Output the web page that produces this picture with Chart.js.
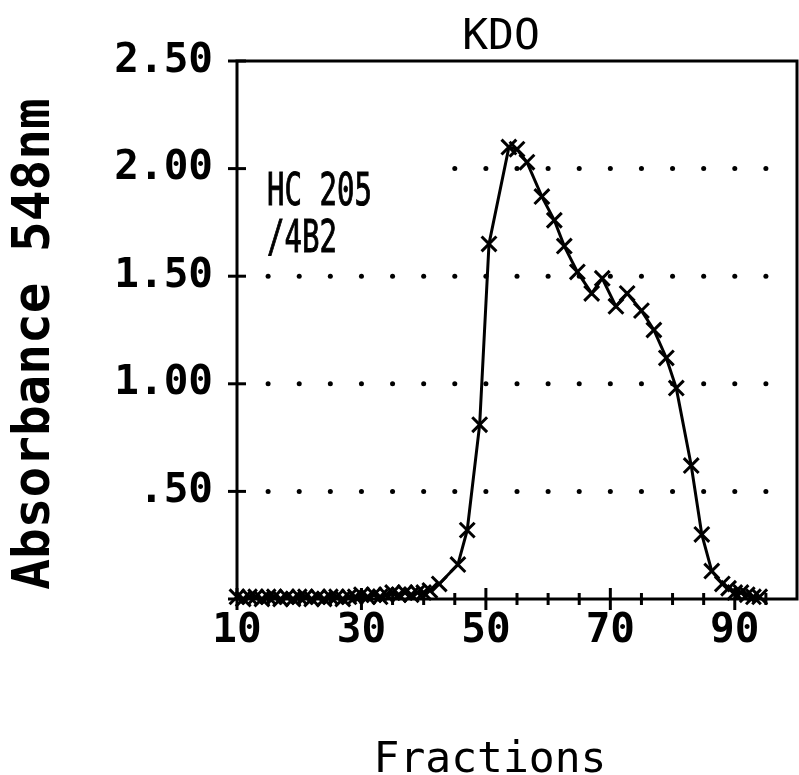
<!DOCTYPE html>
<html>
<head>
    <title>KDO</title>
    <script src="https://cdn.jsdelivr.net/npm/chart.js"></script>
    <style>
        body { margin: 0; background: #fff; }
    </style>
</head>
<body>
    <canvas id="kdoChart" width="799" height="775"></canvas>

    <script>
        // fraction number and absorbance read for each plotted point
        var fractions = [10, 11, 12, 13, 14, 15, 16, 17, 18, 19, 20, 21, 22, 23, 24, 25,
                         26, 27, 28, 29, 30, 31, 32, 33, 34, 35, 36, 37, 38, 39, 40, 41,
                         42.5, 45.5, 47, 49, 50.5, 53.7, 55, 56.6, 59, 61, 62.6, 64.7, 67, 68.7,
                         70.9, 72.7, 75, 77, 79, 80.6, 83, 84.7, 86.3, 88, 89, 90, 91, 92, 93, 94];
        var absorbance = [0.01, 0.00, 0.01, 0.01, 0.00, 0.01, 0.01, 0.00, 0.01, 0.00, 0.01, 0.01, 0.00, 0.01, 0.00, 0.01,
                          0.01, 0.00, 0.01, 0.01, 0.02, 0.01, 0.02, 0.01, 0.02, 0.03, 0.02, 0.03, 0.02, 0.03, 0.03, 0.04,
                          0.07, 0.16, 0.32, 0.81, 1.65, 2.10, 2.09, 2.03, 1.87, 1.76, 1.64, 1.52, 1.42, 1.49,
                          1.36, 1.42, 1.34, 1.25, 1.12, 0.98, 0.62, 0.30, 0.13, 0.07, 0.05, 0.03, 0.03, 0.02, 0.01, 0.01];

        var yTicks = [0, 0.5, 1.0, 1.5, 2.0, 2.5];
        var xLabels = [10, 30, 50, 70, 90];
        var dotRows = [0.5, 1.0, 1.5, 2.0];
        var dotCols = [15, 20, 25, 30, 35, 40, 45, 50, 55, 60, 65, 70, 75, 80, 85, 90, 95];

        var mono = '"DejaVu Sans Mono", monospace';

        // dotted grid, box and cross ticks, drawn under the curve
        var framePlugin = {
            id: 'frame',
            beforeDatasetsDraw: function (chart) {
                var ctx = chart.ctx, a = chart.chartArea;
                var xs = chart.scales.x, ys = chart.scales.y;
                ctx.save();
                ctx.fillStyle = '#000';
                dotRows.forEach(function (v) {
                    var py = ys.getPixelForValue(v);
                    dotCols.forEach(function (c) {
                        // the sample label sits over the left part of the 2.00 row
                        if (v === 2.0 && c < 45) return;
                        ctx.beginPath();
                        ctx.arc(xs.getPixelForValue(c), py, 2.5, 0, Math.PI * 2);
                        ctx.fill();
                    });
                });

                ctx.strokeStyle = '#000';
                ctx.lineWidth = 3;
                ctx.strokeRect(a.left, a.top, a.right - a.left, a.bottom - a.top);

                ys.ticks.forEach(function (t) {
                    var py = ys.getPixelForValue(t.value);
                    ctx.beginPath();
                    ctx.moveTo(a.left - 9, py);
                    ctx.lineTo(a.left + 9, py);
                    ctx.stroke();
                });
                xs.ticks.forEach(function (t) {
                    if (t.value >= xs.max) return;
                    var px = xs.getPixelForValue(t.value);
                    var len = xLabels.indexOf(t.value) >= 0 ? 11 : 6;
                    ctx.beginPath();
                    ctx.moveTo(px, a.bottom - len);
                    ctx.lineTo(px, a.bottom + len);
                    ctx.stroke();
                });
                ctx.restore();
            },
            afterDraw: function (chart) {
                var ctx = chart.ctx;
                var xs = chart.scales.x, ys = chart.scales.y;
                ctx.save();
                ctx.fillStyle = '#000';
                ctx.textAlign = 'center';
                ctx.textBaseline = 'alphabetic';
                ctx.font = '43px ' + mono;
                ctx.fillText('KDO', 501, 49);
                ctx.fillText('Fractions', 490, 772);

                ctx.save();
                ctx.translate(49, 344);
                ctx.rotate(-Math.PI / 2);
                ctx.font = 'bold 51px ' + mono;
                ctx.fillText('Absorbance 548nm', 0, 0);
                ctx.restore();

                // sample name, narrow lettering
                ctx.save();
                ctx.translate(xs.getPixelForValue(15) - 1, ys.getPixelForValue(1.83));
                ctx.scale(0.66, 1);
                ctx.textAlign = 'left';
                ctx.font = '44px ' + mono;
                ctx.strokeStyle = '#000';
                ctx.lineWidth = 1;
                ctx.fillText('HC 205', 0, 0);
                ctx.strokeText('HC 205', 0, 0);
                ctx.fillText('/4B2', 0, 47);
                ctx.strokeText('/4B2', 0, 47);
                ctx.restore();
                ctx.restore();
            }
        };

        var points = fractions.map(function (f, i) {
            return { x: f, y: absorbance[i] };
        });

        var ctx = document.getElementById('kdoChart').getContext('2d');
        var kdoChart = new Chart(ctx, {
            type: 'line',
            data: {
                datasets: [{
                    data: points,
                    borderColor: '#000',
                    borderWidth: 3,
                    pointStyle: 'crossRot',
                    pointRadius: 10.5,
                    pointBorderWidth: 3,
                    pointBorderColor: '#000',
                    tension: 0,
                    fill: false,
                    clip: false
                }]
            },
            options: {
                responsive: false,
                animation: false,
                layout: {
                    autoPadding: false,
                    padding: { top: 61, right: 2, left: 0, bottom: 0 }
                },
                plugins: {
                    legend: { display: false },
                    tooltip: { enabled: false }
                },
                scales: {
                    x: {
                        type: 'linear',
                        min: 10,
                        max: 100,
                        border: { display: false },
                        grid: { display: false, drawTicks: false },
                        ticks: {
                            stepSize: 5,
                            autoSkip: false,
                            maxRotation: 0,
                            padding: 8,
                            color: '#000',
                            font: { family: mono, size: 41, weight: 'bold' },
                            callback: function (v) {
                                return xLabels.indexOf(v) >= 0 ? String(v) : '';
                            }
                        },
                        afterFit: function (scale) {
                            scale.height = 176;
                            scale.paddingLeft = 0;
                            scale.paddingRight = 0;
                        }
                    },
                    y: {
                        min: 0,
                        max: 2.5,
                        border: { display: false },
                        grid: { display: false, drawTicks: false },
                        afterBuildTicks: function (scale) {
                            scale.ticks = yTicks.map(function (v) { return { value: v }; });
                        },
                        ticks: {
                            padding: 24,
                            color: '#000',
                            font: { family: mono, size: 41, weight: 'bold' },
                            callback: function (v) {
                                if (v === 0) return '';
                                return v < 1 ? v.toFixed(2).slice(1) : v.toFixed(2);
                            }
                        },
                        afterFit: function (scale) {
                            scale.width = 237;
                            scale.paddingTop = 0;
                            scale.paddingBottom = 0;
                        }
                    }
                }
            },
            plugins: [framePlugin]
        });
    </script>
</body>
</html>
